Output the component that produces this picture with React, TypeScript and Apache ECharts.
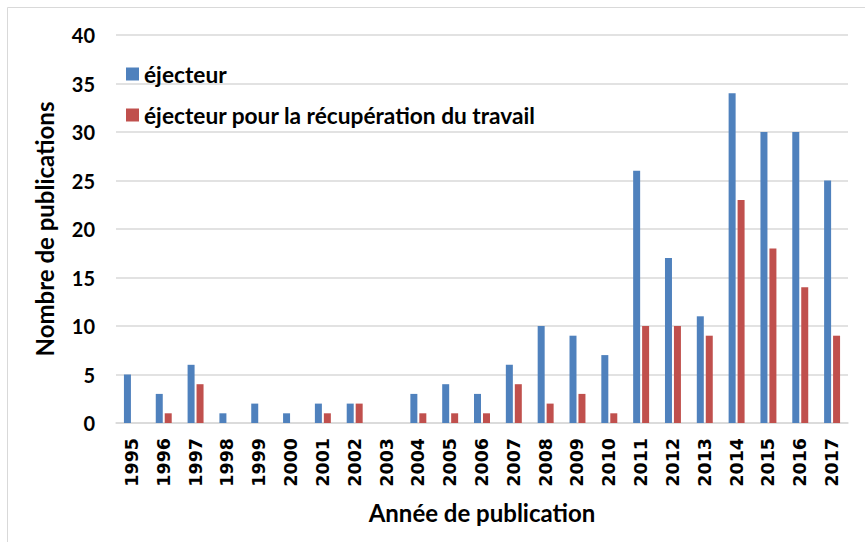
import React, { useEffect, useRef } from "react";
import * as echarts from "echarts";

const years = ["1995","1996","1997","1998","1999","2000","2001","2002","2003","2004","2005","2006","2007","2008","2009","2010","2011","2012","2013","2014","2015","2016","2017"];
const ejecteur = [5,3,6,1,2,1,2,2,0,3,4,3,6,10,9,7,26,17,11,34,30,30,25];
const ejecteurRecup = [0,1,4,0,0,0,1,2,0,1,1,1,4,2,3,1,10,10,9,23,18,14,9];
const seriesNames = ["éjecteur", "éjecteur pour la récupération du travail"];

export default function App() {
  const ref = useRef<HTMLDivElement>(null);
  useEffect(() => {
    if (!ref.current) return;
    const chart = echarts.init(ref.current, null, { renderer: "svg" });
    const bold = "Lato";
    chart.setOption({
      animation: false,
      backgroundColor: "#ffffff",
      graphic: [
        {
          type: "rect",
          shape: { x: 7.5, y: 7.5, width: 900, height: 600 },
          style: { fill: "none", stroke: "#d9d9d9", lineWidth: 1 },
          silent: true,
        },
      ],
      grid: { left: 116, right: 17, top: 35, bottom: 119 },
      legend: {
        orient: "vertical",
        left: 121,
        top: 57,
        itemWidth: 13,
        itemHeight: 13,
        itemGap: 17,
        icon: "rect",
        textStyle: { fontFamily: bold, fontWeight: "bold", fontSize: 22.7, color: "#000", lineHeight: 24 },
        data: seriesNames,
      },
      xAxis: {
        type: "category",
        data: years,
        name: "Année de publication",
        nameLocation: "middle",
        nameGap: 77,
        nameTextStyle: { fontFamily: bold, fontWeight: "bold", fontSize: 24, color: "#000" },
        axisLine: { lineStyle: { color: "#d9d9d9", width: 1.5 } },
        axisTick: { show: false },
        axisLabel: {
          rotate: 90,
          margin: 15,
          fontFamily: "DejaVu Sans",
          fontWeight: "bold",
          fontSize: 17.5,
          color: "#000",
          interval: 0,
        },
      },
      yAxis: {
        type: "value",
        min: 0,
        max: 40,
        interval: 5,
        name: "Nombre de publications",
        nameLocation: "middle",
        nameGap: 60,
        nameTextStyle: { fontFamily: bold, fontWeight: "bold", fontSize: 24, color: "#000" },
        axisLine: { show: false },
        axisTick: { show: false },
        splitLine: { lineStyle: { color: "#d9d9d9", width: 1.5 } },
        axisLabel: { fontFamily: bold, fontWeight: "bold", fontSize: 20, color: "#000", margin: 21 },
      },
      series: [
        {
          name: seriesNames[0],
          type: "bar",
          data: ejecteur,
          barWidth: 7,
          barGap: "28%",
          itemStyle: { color: "#4F81BD" },
        },
        {
          name: seriesNames[1],
          type: "bar",
          data: ejecteurRecup,
          barWidth: 7,
          itemStyle: { color: "#C0504D" },
        },
      ],
    });
    return () => chart.dispose();
  }, []);
  return <div ref={ref} style={{ width: 865, height: 542, position: "absolute", left: 0, top: 0 }} />;
}
